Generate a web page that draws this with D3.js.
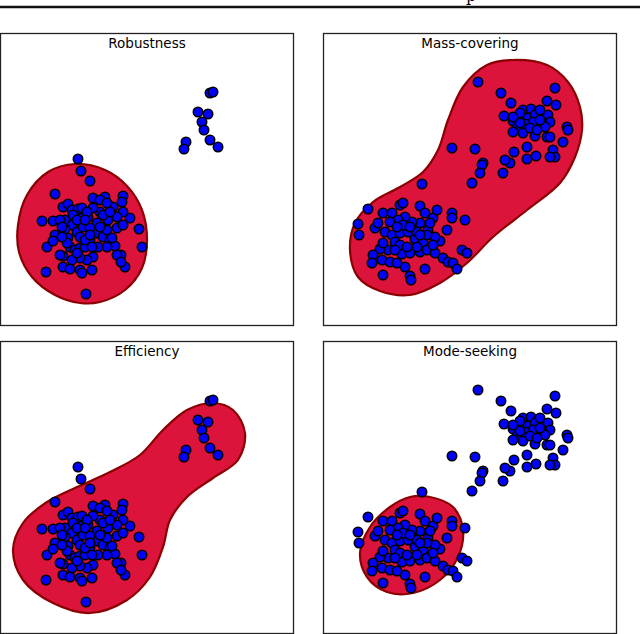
<!DOCTYPE html>
<html>
<head>
<meta charset="utf-8">
<script src="https://cdn.jsdelivr.net/npm/d3@7/dist/d3.min.js"></script>
<style>
  body { margin: 0; background: #fff; }
  svg { display: block; }
</style>
</head>
<body>
<svg id="chart" width="640" height="634"></svg>
<script>
// panel titles
const titles = ["Robustness", "Mass-covering", "Efficiency", "Mode-seeking"];

// data set A: one main cluster plus a small group of outliers (panels 1 and 3)
const clusterA = [
  [7.8,16.6],[8.1,15.4],[9.0,14.4],[5.5,13.1],[4.2,10.4],[13.9,9.6],[14.2,7.8],[4.6,5.3],[8.6,3.1],
  [12.5,5.8],[12.1,7.0],[13.0,10.7],[12.3,12.9],[4.7,7.8],[6.3,11.8],[6.8,12.1],[7.2,11.5],[7.8,11.6],
  [8.2,11.7],[9.3,12.7],[10.5,12.8],[10.0,12.5],[12.2,12.3],[11.3,11.8],[12.3,11.3],[11.7,10.8],
  [10.8,10.5],[10.0,11.3],[9.3,11.7],[8.8,10.8],[8.2,10.7],[7.3,11.0],[6.5,10.5],[5.3,10.4],[6.0,10.5],
  [7.2,10.0],[6.5,9.6],[5.5,9.0],[5.3,8.4],[6.8,8.7],[7.0,7.8],[7.5,7.5],[8.0,7.7],[8.5,7.8],[9.0,8.5],
  [9.7,10.2],[9.7,9.2],[10.3,8.8],[10.7,9.5],[11.0,8.5],[11.5,7.9],[10.7,7.8],[9.8,7.8],[9.3,6.8],
  [8.7,6.5],[8.0,6.7],[7.2,6.5],[6.3,6.9],[6.0,7.0],[6.3,5.8],[7.0,5.6],[8.0,5.5],[9.2,5.5],[8.2,5.2],
  [11.7,9.7],[12.3,10.0],[6.2,9.8],[7.7,9.3],[8.3,9.8],[9.0,9.7],[10.0,9.8],[8.0,8.8],[8.5,8.5],
  [7.7,7.2],[11.7,7.0],[12.1,6.3],[11.2,8.7],[10.3,11.0],[8.7,11.3],[10.7,12.2],[7.7,10.5],[9.2,7.8],
  [6.7,8.2],[6.2,8.8],[11.0,11.3],[8.5,10.5],[9.0,9.0]
];
const outliersA = [
  [21.0,23.2],[21.3,23.3],[19.8,21.3],[20.8,21.1],[20.2,20.3],[20.4,19.5],[18.6,18.3],[18.4,17.6],
  [21.0,18.5],[21.8,17.8]
];

// data set B: two clusters joined by a few bridge points (panels 2 and 4)
const upperB = [
  [15.5,24.3],[17.8,23.2],[23.2,23.7],[18.8,22.2],[20.0,21.5],[20.8,21.6],[21.5,21.3],[22.4,22.4],
  [23.3,22.0],[18.1,20.9],[19.0,20.4],[19.7,21.2],[20.5,20.7],[21.2,21.0],[21.7,21.5],[22.5,21.0],
  [22.7,20.3],[22.0,20.0],[21.0,20.3],[20.2,19.8],[19.4,19.7],[19.0,19.3],[20.0,19.2],[21.2,18.9],
  [22.2,19.8],[22.4,18.8],[22.7,18.8],[24.0,18.3],[24.4,19.8],[24.5,19.5],[23.0,17.5],[23.2,16.8],
  [22.7,16.8],[21.3,16.9],[20.4,17.8],[20.4,16.6],[19.1,17.3],[18.7,16.2],[18.2,16.5],[18.0,15.2],
  [20.2,20.1],[20.7,19.7],[19.7,20.2],[19.0,20.8],[21.7,20.5],[21.4,19.5]
];
const bridgeB = [
  [12.9,17.7],[15.2,17.6],[16.0,16.2],[15.9,16.0],[15.7,15.2],[14.9,14.2],[9.9,14.1]
];
const lowerB = [
  [4.5,11.6],[3.5,10.1],[3.6,9.0],[5.2,9.7],[6.0,11.2],[6.9,11.2],[7.7,12.0],[8.0,12.2],[9.7,11.9],
  [10.2,11.2],[11.0,10.7],[12.9,11.2],[12.9,10.7],[14.2,10.5],[12.4,9.5],[11.7,8.4],[11.2,8.8],
  [10.5,9.5],[9.7,10.2],[8.9,10.3],[8.2,10.8],[7.5,10.5],[6.7,10.3],[6.2,9.3],[6.9,9.0],[7.7,9.2],
  [8.5,9.3],[9.2,8.6],[10.0,8.3],[10.4,9.0],[7.2,8.3],[6.5,7.5],[5.7,7.6],[5.0,7.0],[4.9,6.2],
  [5.9,6.5],[6.7,6.3],[7.9,7.1],[8.7,7.2],[9.7,7.3],[10.4,7.5],[11.2,7.2],[12.0,6.7],[12.5,6.3],
  [13.0,6.2],[13.4,5.6],[13.9,7.5],[14.4,7.2],[10.2,5.6],[8.2,5.8],[8.7,4.9],[8.8,4.5],[6.0,5.0],
  [7.7,8.0],[8.4,7.8],[9.4,7.8],[11.0,8.0],[7.4,6.2],[5.5,10.2],[9.4,9.3],[8.0,10.0],[7.4,9.8],
  [8.7,9.8],[9.7,9.0],[7.2,7.5],[6.0,8.2],[10.7,10.2],[11.4,11.5]
];

// density contour outlines, one per panel
const contourRobust = [
  [7.5,16.1],[10.5,15.5],[12.7,13.9],[14.2,11.5],[14.7,8.5],[14.2,5.7],[12.5,3.5],[10.0,2.3],
  [8.0,2.2],[5.5,3.0],[3.2,4.8],[1.9,7.3],[1.8,10.0],[2.7,13.0],[4.8,15.3]
];
const contourMass = [
  [19.0,26.5],[22.4,26.0],[24.5,24.3],[25.7,21.8],[25.9,19.5],[25.2,16.8],[23.7,14.2],[20.4,11.5],
  [17.0,8.8],[14.4,6.2],[11.7,4.2],[8.7,3.0],[5.7,3.4],[3.5,4.8],[2.7,7.5],[3.2,10.2],[5.0,12.3],
  [7.7,13.8],[10.0,15.3],[11.5,17.5],[12.5,20.5],[14.0,23.8],[16.4,26.0]
];
const contourEff = [
  [21.3,23.0],[23.3,22.3],[24.5,20.0],[23.8,17.3],[21.3,15.5],[18.7,13.6],[17.0,11.3],[16.3,8.6],
  [15.0,5.6],[12.7,3.3],[9.0,2.0],[5.3,3.0],[2.3,5.3],[1.3,8.3],[2.3,11.0],[4.7,13.1],[7.7,14.6],
  [11.0,16.1],[14.0,17.8],[16.3,20.3],[18.7,22.3]
];
const contourMode = [
  [10.7,13.6],[13.0,12.6],[14.0,10.3],[13.5,7.6],[11.7,5.3],[9.0,4.0],[6.4,4.1],[4.4,5.6],
  [3.7,8.0],[4.7,10.6],[6.7,12.6],[8.7,13.6]
];

const pointsA = clusterA.concat(outliersA);
const pointsB = upperB.concat(bridgeB).concat(lowerB);

const panels = [
  { title: titles[0], x0: 0,   y0: 33,  points: pointsA, contour: contourRobust },
  { title: titles[1], x0: 323, y0: 33,  points: pointsB, contour: contourMass },
  { title: titles[2], x0: 0,   y0: 341, points: pointsA, contour: contourEff },
  { title: titles[3], x0: 323, y0: 341, points: pointsB, contour: contourMode }
];

const W = 293, H = 292;
const svg = d3.select("#chart");

// rule across the top, with the tail of the caption above it
svg.append("line")
  .attr("x1", 0).attr("x2", 640)
  .attr("y1", 7).attr("y2", 7)
  .attr("stroke", "#111")
  .attr("stroke-width", 2.4);
svg.append("text")
  .attr("x", 466).attr("y", 1)
  .style("font-family", "DejaVu Serif, serif")
  .style("font-size", "16px")
  .text("p");

const x = d3.scaleLinear().domain([0, 29.3]).range([0, W]);
const y = d3.scaleLinear().domain([0, 29.2]).range([H, 0]);

const line = d3.line()
  .x(d => x(d[0]))
  .y(d => y(d[1]))
  .curve(d3.curveCatmullRomClosed.alpha(0.5));

panels.forEach((p, i) => {
  const g = svg.append("g").attr("transform", `translate(${p.x0},${p.y0})`);

  g.append("clipPath").attr("id", "clip" + i)
    .append("rect").attr("width", W).attr("height", H);

  const inner = g.append("g").attr("clip-path", `url(#clip${i})`);

  inner.append("path")
    .datum(p.contour)
    .attr("d", line)
    .attr("fill", "#dc143c")
    .attr("stroke", "#8b0000")
    .attr("stroke-width", 2.2);

  inner.selectAll("circle")
    .data(p.points)
    .join("circle")
    .attr("cx", d => x(d[0]))
    .attr("cy", d => y(d[1]))
    .attr("r", 4.7)
    .attr("fill", "#0000ff")
    .attr("stroke", "#000")
    .attr("stroke-width", 1.6);

  g.append("rect")
    .attr("x", 0.5).attr("y", 0.5)
    .attr("width", W).attr("height", H)
    .attr("fill", "none")
    .attr("stroke", "#222")
    .attr("stroke-width", 1.3);

  g.append("text")
    .attr("x", W / 2 + 0.5)
    .attr("y", 15)
    .attr("text-anchor", "middle")
    .style("font-family", "DejaVu Sans, sans-serif")
    .style("font-size", "13.5px")
    .text(p.title);
});
</script>
</body>
</html>
